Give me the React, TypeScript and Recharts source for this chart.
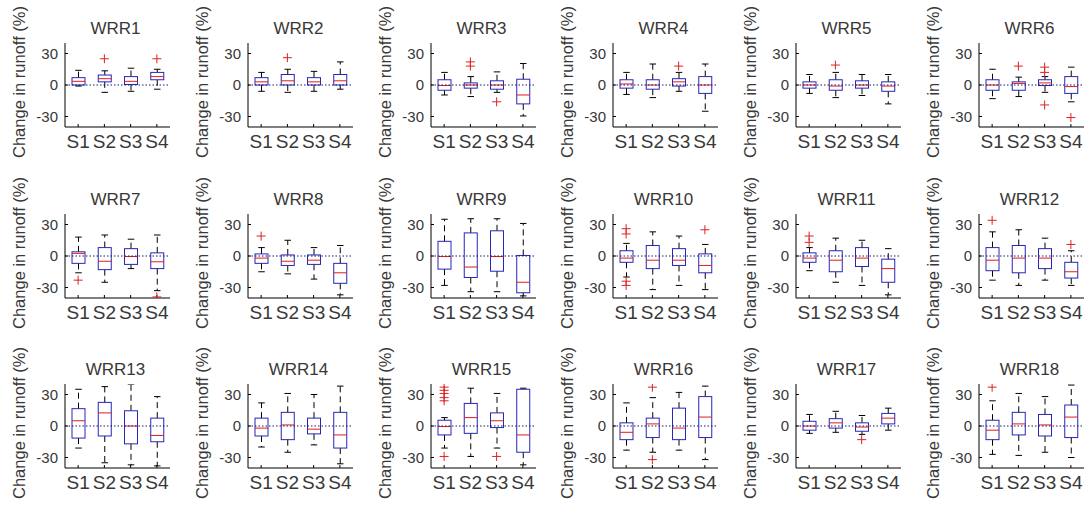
import React from "react";
import { ComposedChart, Bar, Line, XAxis, YAxis, ReferenceLine } from "recharts";

// categories on every panel
const categories = ["S1", "S2", "S3", "S4"];
const regions = [
  "WRR1", "WRR2", "WRR3", "WRR4", "WRR5", "WRR6",
  "WRR7", "WRR8", "WRR9", "WRR10", "WRR11", "WRR12",
  "WRR13", "WRR14", "WRR15", "WRR16", "WRR17", "WRR18",
];
const yTicks = [-30, 0, 30];

// lower whisker end, per region, per scenario
const whiskerLow = [
  [-1, -7, -6, -4], [-6, -7, -6, -4], [-9.5, -11, -7, -29.5], [-9, -12, -6, -25], [-8, -12, -10, -18], [-13, -11, -7, -16],
  [-16, -25, -12, -33], [-15, -17, -22, -37], [-28, -34, -34, -38], [-20, -32, -28, -32], [-14, -25, -28, -37], [-23, -28, -23, -28],
  [-21, -35, -37, -38], [-20, -25, -18, -36], [-21, -29, -21, -37], [-23, -25, -23, -32], [-7, -6, -8, -4], [-27, -28, -25, -30],
];
const lowerQuartile = [
  [0, 3, 0.5, 5], [0, 0, 0, 0], [-5, -3, -4, -18], [-3, -4, -1, -8], [-3, -5, -3, -6], [-5, -5, -0.5, -8],
  [-7, -13, -8, -12], [-7, -9, -8, -26], [-12.5, -20.5, -14.5, -35], [-6, -12, -9, -16], [-6, -15, -10, -25], [-14, -16, -12, -21],
  [-11.5, -9.5, -17, -15], [-9.5, -13, -7.5, -21], [-8.5, -7, -1.5, -25], [-13, -11, -13, -11], [-4, -2, -5, 2], [-13, -8.5, -9.5, -11],
];
const median = [
  [3.5, 6, 3.5, 8], [3, 4, 3, 4], [-0.5, 0, 0, -9.5], [1, 0, 3, 0], [0, -1, 0, -1], [0, 1.5, 2, -1.5],
  [2.5, -5, -0.5, -5.5], [-2, -5, -4, -16], [-0.5, -10.5, -0.5, -25], [-2, -4, -4, -9], [-2, -4, -2, -12], [-4, -2, -2, -15],
  [5, 12.5, 0, -9], [-2, 1, -3, -8.5], [-0.5, 8, 5, -8.5], [-6, 2, -2, 8.5], [0, 3, -1, 7.5], [-4, 2, 1, 8.5],
];
const upperQuartile = [
  [7, 9.5, 8, 12], [7, 10, 7, 10], [5, 2, 4, 5.5], [5, 5, 6, 8], [3, 5, 4, 3], [5, 3, 5, 8],
  [4, 8, 7, 3], [2, 1, 1, -7], [14, 22, 24, 0.5], [5, 10, 7, 2], [3, 5, 8, -3], [8, 10, 7, -6],
  [16.5, 22.5, 14.5, 7.5], [7.5, 13, 7.5, 13], [5.5, 21.5, 12.5, 35], [3, 7.5, 17, 28], [4.5, 7, 3, 12], [5.5, 13, 11, 20],
];
const whiskerHigh = [
  [14, 13.5, 16, 15], [12, 15, 13, 22], [12, 8, 12.5, 20.5], [12, 20, 12, 20], [10, 12, 10, 10], [15, 7.5, 8, 17],
  [18, 20, 16, 20], [8, 15, 8, 10], [35, 35.5, 35.5, 31], [12, 23, 19, 11], [8, 17, 15, 7], [23, 25, 17, 5],
  [35, 37.5, 40, 28], [22, 31, 30, 38], [8, 36, 31, 36], [22, 27, 32, 38], [11, 14, 10, 17], [24, 31, 28, 39],
];
const outliers: number[][][] = [
  [[], [25], [], [25]], [[], [26], [], []], [[], [22, 18], [-16], []], [[], [], [18], []], [[], [19], [], []], [[], [18], [17, 12, -19], [-31]],
  [[-23], [], [], [-39]], [[19], [], [], []], [[], [], [], []], [[26, 21, -24, -28], [], [], [25]], [[19, 13], [], [], []], [[34], [], [], [11]],
  [[], [], [], []], [[], [], [], []], [[37, 34, 31, 27, 24, -29], [], [-29], []], [[], [37, -32], [], []], [[], [], [-13], []], [[37], [], [], []],
];

const FONT = '"Liberation Sans", Arial, Helvetica, sans-serif';
const TEXT = "#383838";
const COL_X = [65, 248, 431, 613, 796, 979];
const ROW_Y = [43, 214, 384];
const PLOT_W = 105;
const SLOTS = [0, 1, 2, 3, 4, 5];

function BoxShape(props: any) {
  const { x, y, width, height, payload } = props;
  const { q1, q3, lo, hi, med } = payload;
  const yQ3 = y;
  const yQ1 = y + height;
  const pix = (v: number) => yQ1 + ((v - q1) * (yQ3 - yQ1)) / (q3 - q1);
  const cx = x + width / 2;
  const cap = width / 4;
  return (
    <g>
      <line x1={cx} x2={cx} y1={pix(q3)} y2={pix(hi)} stroke="#000" strokeDasharray="6 4" />
      <line x1={cx} x2={cx} y1={pix(q1)} y2={pix(lo)} stroke="#000" strokeDasharray="6 4" />
      <line x1={cx - cap} x2={cx + cap} y1={pix(hi)} y2={pix(hi)} stroke="#000" />
      <line x1={cx - cap} x2={cx + cap} y1={pix(lo)} y2={pix(lo)} stroke="#000" />
      <rect x={x} y={Math.min(yQ1, yQ3)} width={width} height={Math.abs(yQ1 - yQ3)} fill="none" stroke="#2626b8" />
      <line x1={x} x2={x + width} y1={pix(med)} y2={pix(med)} stroke="#e01c1c" />
    </g>
  );
}

function PlusDot(props: any) {
  const { cx, cy, value, index } = props;
  if (value == null || cx == null || cy == null) return <g key={index} />;
  return (
    <g key={index}>
      <line x1={cx - 4.5} x2={cx + 4.5} y1={cy} y2={cy} stroke="#dd2222" />
      <line x1={cx} x2={cx} y1={cy - 4.5} y2={cy + 4.5} stroke="#dd2222" />
    </g>
  );
}

function Panel({ r }: { r: number }) {
  const data = categories.map((cat, i) => {
    const row: any = {
      cat,
      box: [lowerQuartile[r][i], upperQuartile[r][i]],
      q1: lowerQuartile[r][i],
      q3: upperQuartile[r][i],
      lo: whiskerLow[r][i],
      hi: whiskerHigh[r][i],
      med: median[r][i],
    };
    outliers[r][i].forEach((v, k) => {
      row["o" + k] = v;
    });
    return row;
  });
  const col = r % 6;
  const rowIdx = Math.floor(r / 6);
  return (
    <div style={{ position: "absolute", left: COL_X[col] - 65, top: ROW_Y[rowIdx] - 43 }}>
      <ComposedChart width={182} height={170} data={data} margin={{ top: 43, right: 12, bottom: 13, left: 35 }}>
        <XAxis
          xAxisId="b"
          dataKey="cat"
          interval={0}
          height={30}
          tickSize={-3}
          tickMargin={11}
          stroke="#000"
          tick={{ fontSize: 19, fill: TEXT, fontFamily: FONT }}
        />
        <XAxis
          xAxisId="t"
          dataKey="cat"
          orientation="top"
          interval={0}
          height={0}
          tickSize={-3}
          stroke="#000"
          tickFormatter={() => ""}
        />
        <YAxis
          yAxisId="l"
          domain={[-40, 40]}
          allowDataOverflow
          ticks={yTicks}
          width={30}
          tickSize={-3}
          tickMargin={10}
          stroke="#000"
          tick={{ fontSize: 15, fill: TEXT, fontFamily: FONT }}
          label={{
            content: (p: any) => {
              const vb = p.viewBox;
              const plotLeft = vb.x + vb.width;
              const lx = plotLeft - 40.5;
              const ly = vb.y + vb.height / 2 - 3;
              return (
                <g>
                  <text x={lx} y={ly} textAnchor="middle" fontSize={16.5} fill={TEXT} fontFamily={FONT} transform={`rotate(-90 ${lx} ${ly})`}>
                    Change in runoff (%)
                  </text>
                  <text x={plotLeft + PLOT_W / 2 - 2} y={vb.y - 9.5} textAnchor="middle" fontSize={17} fill={TEXT} fontFamily={FONT}>
                    {regions[r]}
                  </text>
                </g>
              );
            },
          }}
        />
        <YAxis
          yAxisId="r"
          orientation="right"
          domain={[-40, 40]}
          allowDataOverflow
          ticks={yTicks}
          width={0}
          tickSize={-3}
          stroke="#000"
          tickFormatter={() => ""}
        />
        <Bar xAxisId="b" yAxisId="l" dataKey="box" barSize={13} shape={BoxShape} isAnimationActive={false} />
        <ReferenceLine xAxisId="b" yAxisId="l" y={0} stroke="#1a1a66" strokeDasharray="1.5 2" />
        {SLOTS.map((k) => (
          <Line
            key={k}
            xAxisId="b"
            yAxisId="l"
            dataKey={"o" + k}
            stroke="none"
            dot={PlusDot}
            activeDot={false}
            isAnimationActive={false}
            legendType="none"
          />
        ))}
      </ComposedChart>
    </div>
  );
}

export default function App() {
  return (
    <div style={{ position: "absolute", left: 0, top: 0, width: 1085, height: 511, background: "#fff", overflow: "hidden" }}>
      {regions.map((_, r) => (
        <Panel key={r} r={r} />
      ))}
    </div>
  );
}
